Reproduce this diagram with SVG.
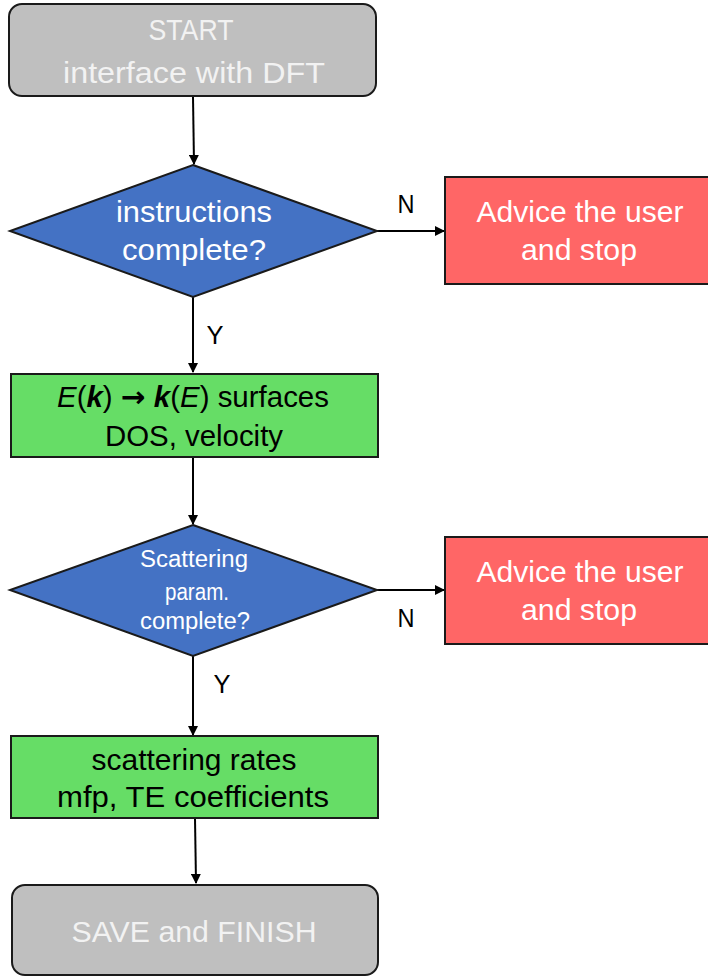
<svg xmlns="http://www.w3.org/2000/svg" width="708" height="977" viewBox="0 0 708 977">
<defs>
<marker id="ah" markerWidth="10" markerHeight="10" refX="9" refY="5" orient="auto" markerUnits="userSpaceOnUse">
<path d="M0,0 L10,5 L0,10 z" fill="#000"/>
</marker>
<style>
.t{font-family:"Liberation Sans",Arial,sans-serif;font-size:29px;text-anchor:middle}
.w{fill:#fff}
.g{fill:#f2f2f2}
.k{fill:#000}
.s{font-size:23px}
.big{font-size:30px}
.lbl{font-family:"Liberation Sans",Arial,sans-serif;font-size:26px;fill:#000;text-anchor:middle}
.term{fill:#bfbfbf;stroke:#1a1a1a;stroke-width:2}
.dec{fill:#4472c4;stroke:#1a1a1a;stroke-width:2}
.stop{fill:#ff6666;stroke:#1a1a1a;stroke-width:2}
.proc{fill:#66dd66;stroke:#1a1a1a;stroke-width:2}
.c{stroke:#000;stroke-width:2;fill:none}
</style>
</defs>
<rect width="708" height="977" fill="#fff"/>
<g id="connectors">
<line class="c" x1="193" y1="97" x2="194" y2="164" marker-end="url(#ah)"/>
<line class="c" x1="377" y1="231" x2="444" y2="231" marker-end="url(#ah)"/>
<line class="c" x1="193" y1="297" x2="193" y2="372" marker-end="url(#ah)"/>
<line class="c" x1="193" y1="457" x2="193" y2="524" marker-end="url(#ah)"/>
<line class="c" x1="377" y1="590" x2="444" y2="590" marker-end="url(#ah)"/>
<line class="c" x1="193" y1="656" x2="193" y2="735" marker-end="url(#ah)"/>
<line class="c" x1="195" y1="818" x2="196" y2="883" marker-end="url(#ah)"/>
<text class="lbl" x="406" y="213" textLength="17" lengthAdjust="spacingAndGlyphs">N</text>
<text class="lbl" x="215" y="344" textLength="17" lengthAdjust="spacingAndGlyphs">Y</text>
<text class="lbl" x="406" y="627" textLength="17" lengthAdjust="spacingAndGlyphs">N</text>
<text class="lbl" x="222" y="693" textLength="17" lengthAdjust="spacingAndGlyphs">Y</text>
</g>
<g id="start">
<rect class="term" x="9" y="4" width="367" height="92" rx="13"/>
<text class="t g big" x="191" y="40" textLength="85" lengthAdjust="spacingAndGlyphs">START</text>
<text class="t g big" x="194" y="83" textLength="262" lengthAdjust="spacingAndGlyphs">interface with DFT</text>
</g>
<g id="decision1">
<polygon class="dec" points="193,165 377,231 193,297 10,231"/>
<text class="t w" x="194" y="222" textLength="156" lengthAdjust="spacingAndGlyphs">instructions</text>
<text class="t w" x="194" y="260" textLength="144" lengthAdjust="spacingAndGlyphs">complete?</text>
</g>
<g id="stop1">
<rect class="stop" x="445" y="177" width="266" height="107"/>
<text class="t w" x="580" y="222" textLength="207" lengthAdjust="spacingAndGlyphs">Advice the user</text>
<text class="t w" x="579" y="260" textLength="116" lengthAdjust="spacingAndGlyphs">and stop</text>
</g>
<g id="process1">
<rect class="proc" x="11" y="374" width="367" height="83"/>
<text class="t k" x="193" y="407" textLength="272" lengthAdjust="spacingAndGlyphs"><tspan font-style="italic">E</tspan>(<tspan font-style="italic" font-weight="bold">k</tspan>) <tspan font-family="DejaVu Sans" font-weight="bold">→</tspan> <tspan font-style="italic" font-weight="bold">k</tspan>(<tspan font-style="italic">E</tspan>) surfaces</text>
<text class="t k" x="194" y="446" textLength="178" lengthAdjust="spacingAndGlyphs">DOS, velocity</text>
</g>
<g id="decision2">
<polygon class="dec" points="193,525 377,590 193,656 10,590"/>
<text class="t w s" x="194" y="567" textLength="108" lengthAdjust="spacingAndGlyphs">Scattering</text>
<text class="t w s" x="197" y="600" textLength="64" lengthAdjust="spacingAndGlyphs">param.</text>
<text class="t w s" x="195" y="629" textLength="110" lengthAdjust="spacingAndGlyphs">complete?</text>
</g>
<g id="stop2">
<rect class="stop" x="445" y="537" width="266" height="107"/>
<text class="t w" x="580" y="582" textLength="207" lengthAdjust="spacingAndGlyphs">Advice the user</text>
<text class="t w" x="579" y="620" textLength="116" lengthAdjust="spacingAndGlyphs">and stop</text>
</g>
<g id="process2">
<rect class="proc" x="11" y="736" width="367" height="82"/>
<text class="t k" x="194" y="770" textLength="205" lengthAdjust="spacingAndGlyphs">scattering rates</text>
<text class="t k" x="193" y="807" textLength="272" lengthAdjust="spacingAndGlyphs">mfp, TE coefficients</text>
</g>
<g id="finish">
<rect class="term" x="12" y="885" width="366" height="90" rx="13"/>
<text class="t g" x="194" y="942" textLength="245" lengthAdjust="spacingAndGlyphs">SAVE and FINISH</text>
</g>
</svg>
